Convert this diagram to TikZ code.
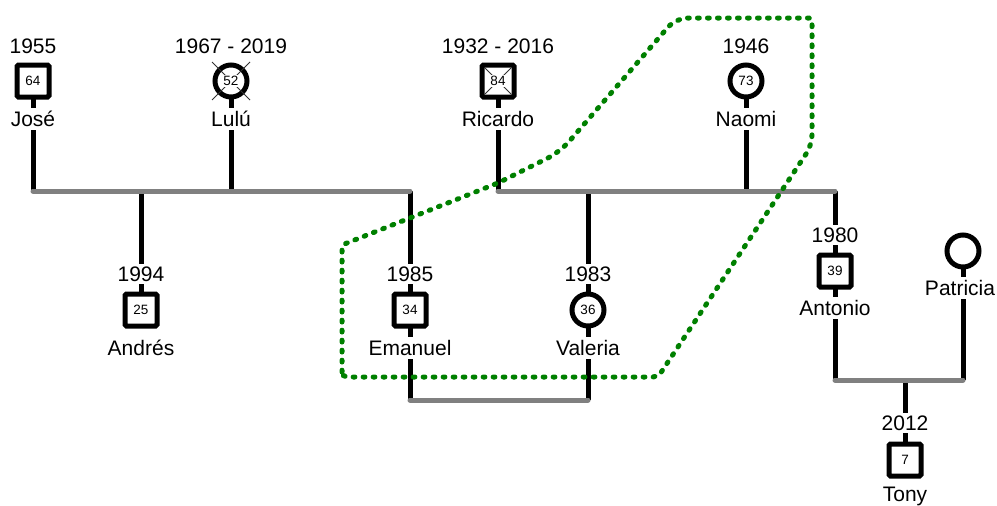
\documentclass[tikz,border=0pt]{standalone}
\usepackage{fontspec}
\setmainfont{Liberation Sans}
\usetikzlibrary{backgrounds,calc}
\definecolor{uniongray}{RGB}{128,128,128}
\definecolor{hgreen}{RGB}{0,128,0}
\definecolor{crossgray}{RGB}{50,50,50}
\begin{document}
\begin{tikzpicture}[x=1pt,y=-1pt,
  male/.style={draw=black, line width=5pt, fill=white, minimum size=32pt, inner sep=0pt, rounded corners=1.5pt, font=\fontsize{13.5}{13.5}\selectfont},
  female/.style={circle, draw=black, line width=5pt, fill=white, minimum size=32pt, inner sep=0pt, font=\fontsize{13.5}{13.5}\selectfont},
  age/.style={fill=white, inner sep=0.8pt, font=\fontsize{13.5}{13.5}\selectfont},
  lbl/.style={fill=white, inner xsep=2pt, inner ysep=3pt, font=\fontsize{21}{24}\selectfont},
  stem/.style={line width=5pt, black},
  union/.style={line width=5pt, uniongray, line cap=round},
  cross/.style={line width=1pt, crossgray},
  household/.style={hgreen, line width=5pt, line cap=round, dash pattern=on 1.8pt off 8.2pt}
]
\useasboundingbox (0,0) rectangle (997,506);

% ---------- top row ----------
\node[lbl] (y_jose) at (33,46) {1955};
\node[male] (jose) at (33,81) {64};
\node[lbl] (n_jose) at (33,119) {José};

\node[lbl] (y_lulu) at (231,46) {1967 - 2019};
\node[female] (lulu) at (231,81) {};
\draw[cross] ($(lulu.center)+(-19,-19)$) -- ($(lulu.center)+(19,19)$);
\draw[cross] ($(lulu.center)+(19,-19)$) -- ($(lulu.center)+(-19,19)$);
\node[age] (a_lulu) at (lulu.center) {52};
\node[lbl] (n_lulu) at (231,119) {Lulú};

\node[lbl] (y_ricardo) at (498,46) {1932 - 2016};
\node[male] (ricardo) at (498,81) {};
\draw[cross] ($(ricardo.center)+(-13,-13)$) -- ($(ricardo.center)+(13,13)$);
\draw[cross] ($(ricardo.center)+(13,-13)$) -- ($(ricardo.center)+(-13,13)$);
\node[age] (a_ricardo) at (ricardo.center) {84};
\node[lbl] (n_ricardo) at (498,119) {Ricardo};

\node[lbl] (y_naomi) at (746,46) {1946};
\node[female] (naomi) at (746,81) {73};
\node[lbl] (n_naomi) at (746,119) {Naomi};

% ---------- second row ----------
\node[lbl] (y_andres) at (141,274) {1994};
\node[male] (andres) at (141,310) {25};
\node[lbl] (n_andres) at (141,348) {Andrés};

\node[lbl] (y_emanuel) at (410,274) {1985};
\node[male] (emanuel) at (410,310) {34};
\node[lbl] (n_emanuel) at (410,348) {Emanuel};

\node[lbl] (y_valeria) at (588,274) {1983};
\node[female] (valeria) at (588,310) {36};
\node[lbl] (n_valeria) at (588,348) {Valeria};

\node[lbl] (y_antonio) at (835,235) {1980};
\node[male] (antonio) at (835,271) {39};
\node[lbl] (n_antonio) at (835,308) {Antonio};

\node[female] (patricia) at (963,251) {};
\node[lbl] (n_patricia) at (960,288) {Patricia};

\node[lbl] (y_tony) at (905,423) {2012};
\node[male] (tony) at (905,460) {7};
\node[lbl] (n_tony) at (905,496) {Tony};

% ---------- coordinates of union lines ----------
\coordinate (u1L) at (33,191);
\coordinate (u1R) at (410,191);
\coordinate (u1c) at (141,191);
\coordinate (u1w) at (231,191);
\coordinate (u2L) at (498,191);
\coordinate (u2R) at (835,191);
\coordinate (u2w) at (746,191);
\coordinate (u2c) at (588,191);
\coordinate (u3L) at (410,400);
\coordinate (u3R) at (588,400);
\coordinate (u4L) at (835,380);
\coordinate (u4R) at (963,380);
\coordinate (u4c) at (905,380);

\begin{scope}[on background layer]
  \draw[stem] (jose.center) -- (u1L);
  \draw[stem] (lulu.center) -- (u1w);
  \draw[stem] (u1c) -- (andres.center);
  \draw[stem] (u1R) -- (u3L);
  \draw[stem] (ricardo.center) -- (u2L);
  \draw[stem] (naomi.center) -- (u2w);
  \draw[stem] (u2c) -- (u3R);
  \draw[stem] (u2R) -- (u4L);
  \draw[stem] (patricia.center) -- (u4R);
  \draw[stem] (u4c) -- (tony.center);
  \draw[union] (u1L) -- (u1R);
  \draw[union] (u2L) -- (u2R);
  \draw[union] (u3L) -- (u3R);
  \draw[union] (u4L) -- (u4R);
\end{scope}

% ---------- household boundary ----------
\draw[household, rounded corners=3pt]
  (342,377) -- (342,245) [rounded corners=6pt] -- (498,183) [rounded corners=14pt] -- (560,152)
  [rounded corners=12pt] -- (676,18) [rounded corners=3pt] -- (812,18)
  [rounded corners=10pt] -- (812,145) [rounded corners=5pt] -- (658,377) -- cycle;
\end{tikzpicture}
\end{document}
